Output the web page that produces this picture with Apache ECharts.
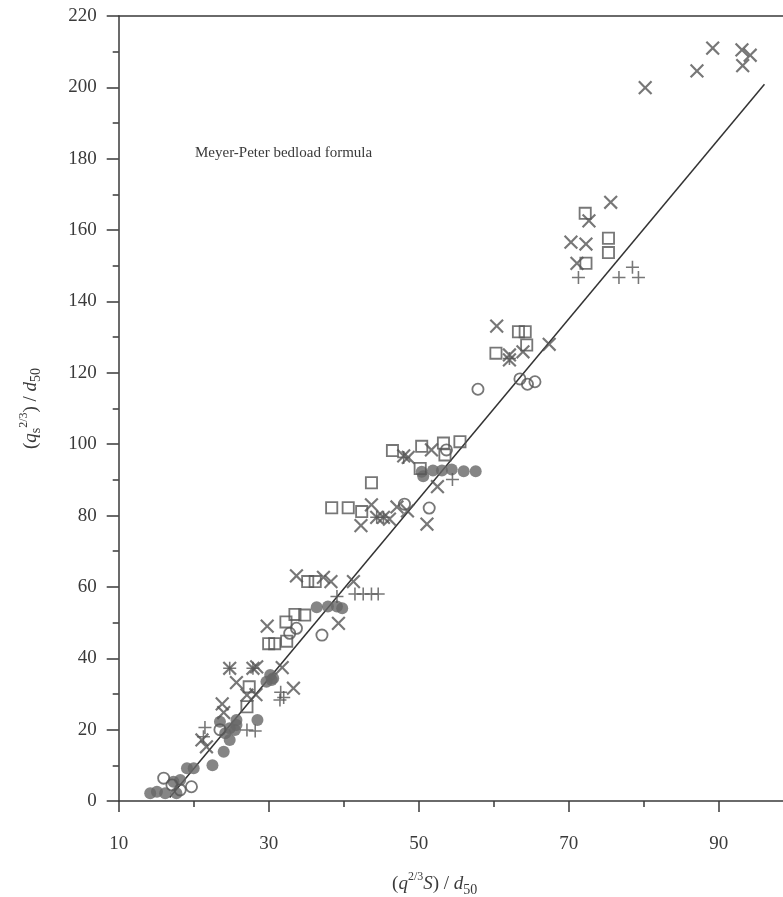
<!DOCTYPE html>
<html>
<head>
<meta charset="utf-8">
<script src="https://cdn.jsdelivr.net/npm/echarts@6/dist/echarts.min.js"></script>
<style>
  html, body { margin: 0; padding: 0; background: #fff; }
  #chart { width: 783px; height: 897px; }
</style>
</head>
<body>
<div id="chart"></div>
<script>
// 数据
var crossPts = [
    [80.2, 199.9], [87.1, 204.6], [89.2, 211], [93.1, 210.5], [94.2, 209], [93.2, 206.1],
    [75.6, 167.8], [72.7, 162.6], [70.3, 156.6], [72.3, 156.1], [71.1, 150.7],
    [60.4, 133.1], [67.4, 128], [63.9, 125.9], [62.1, 125], [62.1, 123.6],
    [51.7, 98.4], [48, 96.7], [52.5, 88.1], [48.6, 96.3],
    [43.7, 83], [42.3, 77.2], [44.4, 79.5], [45.3, 79.5], [46.1, 79], [47.1, 82.4], [48.5, 81.3], [51.1, 77.6],
    [33.7, 63.1], [37.3, 62.7], [38.3, 61.5], [41.3, 61.5], [39.3, 49.8], [29.8, 49],
    [24.8, 37.2], [27.9, 37.2], [28.4, 37.6], [31.8, 37.4], [25.7, 33.2], [33.3, 31.6], [27.1, 29.7], [28.3, 29.8],
    [23.8, 27.2], [24, 24.8], [21.1, 17.1], [21.7, 15.2]
];
var plusPts = [
    [71.3, 146.7], [76.7, 146.7], [78.5, 149.6], [79.3, 146.7],
    [54.5, 90.1],
    [39.1, 57.3], [41.5, 58], [42.6, 58], [43.7, 58], [44.6, 58],
    [44.4, 79.5], [45.3, 79.5], [48, 96.3], [62.1, 124],
    [24.8, 37.2], [27.9, 37.2], [31.6, 30.5], [32, 29], [31.5, 28.3],
    [21.5, 20.6], [27.1, 19.9], [28.2, 19.6], [21.3, 18]
];
var squarePts = [
    [72.2, 164.7], [75.3, 157.7], [75.3, 153.7], [72.3, 150.7],
    [63.3, 131.5], [64.2, 131.5], [64.4, 127.8], [60.3, 125.5],
    [50.4, 99.4], [53.3, 100.3], [55.5, 100.7], [46.5, 98.2], [50.2, 93.2], [53.5, 97],
    [43.7, 89.2], [38.4, 82.2], [40.6, 82.2], [42.4, 81.1],
    [35.2, 61.5], [36.2, 61.5],
    [33.5, 52.3], [34.8, 52.1], [32.3, 50.2], [30, 44.1], [30.8, 44.1], [32.4, 44.8],
    [27.4, 32], [27.1, 26.4]
];
var circlePts = [
    [63.5, 118.3], [64.5, 116.8], [65.5, 117.5], [57.9, 115.4],
    [53.7, 98.4], [48.1, 83.2], [51.4, 82.1],
    [37.1, 46.5], [32.8, 47], [33.7, 48.4],
    [23.5, 20],
    [16, 6.4], [19.7, 4], [17.1, 4.5], [18.2, 3.1]
];
var dotPts = [
    [50.4, 92.3], [51.9, 92.6], [53.1, 92.6], [54.4, 92.9], [56, 92.4], [57.6, 92.4], [50.6, 91],
    [36.4, 54.3], [37.9, 54.5], [39.1, 54.5], [39.8, 54],
    [30.6, 34.4], [30.2, 35.3], [30.4, 33.9], [29.7, 33.4],
    [23.5, 22.2], [24.8, 20.4], [25.7, 21.3], [24.2, 19], [24.8, 17.1], [25.5, 19.9], [25.7, 22.7], [28.5, 22.7],
    [24, 13.8], [22.5, 10], [19.1, 9.2], [20, 9.2], [17.3, 5.4], [18.2, 5.9],
    [14.2, 2.2], [15.1, 2.6], [16.2, 2.2], [17.7, 2.2]
];
var fitLine = [[16.8, 1], [96.1, 200.9]];

var PLUS = 'path://M4.4,0H5.6V4.4H10V5.6H5.6V10H4.4V5.6H0V4.4H4.4Z';
var SQUARE = 'path://M0,0H10V10H0ZM1.4,1.4V8.6H8.6V1.4Z';
var RING = 'path://M0,5A5,5,0,1,1,10,5A5,5,0,1,1,0,5ZM1.4,5A3.6,3.6,0,1,0,8.6,5A3.6,3.6,0,1,0,1.4,5Z';

var serif = '"Liberation Serif", "DejaVu Serif", serif';
var ink = '#3a3a3a';
var mark = '#555';

var richText = {
    n: { fontFamily: serif, fontSize: 19, color: ink, lineHeight: 26 },
    i: { fontFamily: serif, fontSize: 19, color: ink, fontStyle: 'italic', lineHeight: 26 },
    sub: { fontFamily: serif, fontSize: 14, color: ink, verticalAlign: 'bottom', lineHeight: 26 },
    sup: { fontFamily: serif, fontSize: 12, color: ink, verticalAlign: 'top', lineHeight: 26 }
};

var option = {
    backgroundColor: '#fff',
    animation: false,
    // x 轴 0..110, 100 以后在画布外
    grid: { left: 118.7, top: 16, bottom: 96, width: 750, outerBoundsMode: 'none', containLabel: false },
    xAxis: [{
        type: 'value', min: 10, max: 110, interval: 20,
        name: '{n|(}{i|q}{sup|2/3}{i|S}{n|) / }{i|d}{sub|50}',
        nameLocation: 'middle', nameGap: 70,
        nameTextStyle: { rich: richText, padding: [0, 0, 0, -118] },
        axisLine: { lineStyle: { color: ink, width: 1.5 } },
        axisTick: { length: 11, lineStyle: { color: ink, width: 1.5 } },
        minorTick: { show: true, splitNumber: 2, length: 6, lineStyle: { color: ink, width: 1.5 } },
        axisLabel: { fontFamily: serif, fontSize: 19, color: ink, margin: 34, showMaxLabel: false },
        splitLine: { show: false }
    }, {
        type: 'value', position: 'top', min: 10, max: 110,
        axisLine: { lineStyle: { color: ink, width: 1.5 } },
        axisTick: { show: false }, axisLabel: { show: false }, splitLine: { show: false }
    }],
    yAxis: {
        type: 'value', min: 0, max: 220, interval: 20,
        name: '{n|(}{i|q}{sub|s}{sup|2/3}{n|) / }{i|d}{sub|50}',
        nameLocation: 'middle', nameGap: 75, nameRotate: 90,
        nameTextStyle: { rich: richText },
        axisLine: { lineStyle: { color: ink, width: 1.5 } },
        axisTick: { length: 12, lineStyle: { color: ink, width: 1.5 } },
        minorTick: { show: true, splitNumber: 2, length: 6, lineStyle: { color: ink, width: 1.5 } },
        axisLabel: { fontFamily: serif, fontSize: 19, color: ink, margin: 22 },
        splitLine: { show: false }
    },
    graphic: [{
        type: 'text', left: 195, top: 146,
        style: { text: 'Meyer-Peter bedload formula', font: '15px ' + serif, fill: ink }
    }],
    series: [
        {
            type: 'line', data: fitLine, symbol: 'none',
            lineStyle: { color: '#333', width: 1.5 }, z: 1
        },
        {
            type: 'scatter', data: dotPts, symbol: 'circle', symbolSize: 12,
            itemStyle: { color: '#666' }
        },
        {
            type: 'scatter', data: circlePts, symbol: RING, symbolSize: 13,
            itemStyle: { color: mark }
        },
        {
            type: 'scatter', data: squarePts, symbol: SQUARE, symbolSize: 13,
            itemStyle: { color: mark }
        },
        {
            type: 'scatter', data: plusPts, symbol: PLUS, symbolSize: 13,
            itemStyle: { color: mark }
        },
        {
            type: 'scatter', data: crossPts, symbol: PLUS, symbolSize: 18, symbolRotate: 45,
            itemStyle: { color: mark }
        }
    ]
};

var myChart = echarts.init(document.getElementById('chart'));
myChart.setOption(option);
window.onresize = function () {
    myChart.resize();
};
</script>
</body>
</html>
